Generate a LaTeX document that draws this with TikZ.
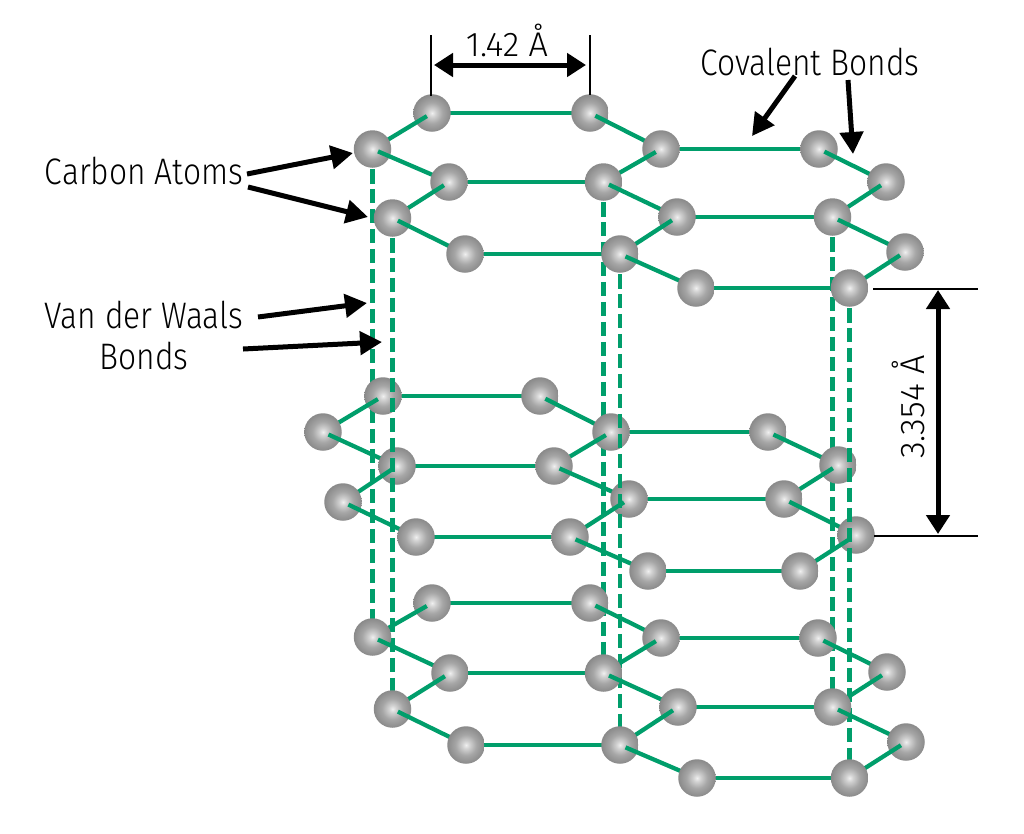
\documentclass[tikz,border=0pt]{standalone}
\usepackage{fontspec}
\setmainfont{Fira Sans}[UprightFont=* Light, FakeStretch=0.86]
\newfontfamily\numfont{Fira Sans Light}
\usetikzlibrary{arrows.meta}
\definecolor{bondgreen}{HTML}{009E6B}
\pgfdeclareradialshading{atomshade}{\pgfpoint{0bp}{0bp}}{%
	color(0bp)=(white!94!black);
	color(5bp)=(white!82!black);
	color(14bp)=(white!65!black);
	color(24bp)=(white!55!black);
	color(31bp)=(white!48!black);
	color(35bp)=(white!40!black);
	color(50bp)=(white!36!black)
}
\tikzset{%
	atom/.style={
		circle,
		inner sep=0pt,
		minimum size=0.75cm,
		shading=atomshade
	},
	bond/.style={
		draw=bondgreen,
		line width=0.085cm
	},
	vdw/.style={
		draw=bondgreen,
		line width=0.085cm,
		dash pattern=on 0.29cm off 0.11cm
	},
	pointer/.style={
		line width=0.1cm,
		-{Triangle[length=0.44cm,width=0.46cm]}
	},
	span/.style={
		line width=0.1cm,
		{Triangle[length=0.38cm,width=0.46cm]}-{Triangle[length=0.38cm,width=0.46cm]}
	},
	tick/.style={
		line width=0.04cm
	},
	label/.style={
		font=\fontsize{21}{25}\selectfont,
		inner sep=0pt,
		text=black
	},
	number/.style={
		font=\numfont\fontsize{19.5}{23}\selectfont,
		inner sep=0pt,
		text=black
	},
}
% one sheet: flat bonds first, then the zigzag bonds lying over one atom and under the next
\newcommand{\drawsheet}[1]{%
	\foreach \p/\q in {1/6,7/12,3/8,9/14,5/10,11/16}
		\draw[bond] (#1\p.center) -- (#1\q.center);
	\foreach \p in {1,6,12}
		\node[atom] (#1\p) at (#1\p) {};
	\foreach \p/\q in {1/2,2/3,3/4,4/5,6/7,7/8,8/9,9/10,10/11,12/13,13/14,14/15,15/16}{
		\draw[bond, shorten <=0.12cm] (#1\p.center) -- (#1\q.center);
		\node[atom] (#1\q) at (#1\q) {};
	}
}

\begin{document}
\begin{tikzpicture}[x=0.02cm, y=-0.02cm]
			
			\useasboundingbox (0,0) rectangle (1024,833);
			
			% Atom positions, top sheet
			\foreach \n/\x/\y in {1/432/113,2/372.5/149,3/449/182,4/392.5/218,5/465/254,6/590/113,7/661/149,8/603.5/182,9/677/217,10/620/254,11/696/288,12/819/149,13/886/182,14/832.5/217,15/905/252,16/849.5/288}
				\coordinate (t\n) at (\x,\y);
			% Middle sheet
			\foreach \n/\x/\y in {1/383/396,2/323/432,3/397/466,4/343/502,5/416/537,6/540/396,7/611/432,8/554/466,9/629/499,10/570/537,11/648/571,12/768/432,13/838/465,14/784/499,15/856/535,16/800/571}
				\coordinate (m\n) at (\x,\y);
			% Bottom sheet
			\foreach \n/\x/\y in {1/432/603,2/372.5/637,3/450/673,4/392.5/709,5/466/745,6/590/603,7/661/638,8/603.5/673,9/678/707,10/620/745,11/697/778,12/818/638,13/887/672,14/832.5/707,15/906/742,16/849.5/778}
				\coordinate (b\n) at (\x,\y);
			
			% Van der Waals bonds behind the middle sheet
			\foreach \n in {2,8,14}
				\draw[vdw] (t\n.center) -- (b\n.center);
			\drawsheet{m}
			% These run in front of it
			\foreach \n in {4,10,16}
				\draw[vdw] (t\n.center) -- (b\n.center);
			\drawsheet{t}
			\drawsheet{b}
			
			% Carbon atom labels
			\node[label] (carbon) at (144,171) {Carbon Atoms};
			\coordinate (ca1) at (247,174);
			\coordinate (ca2) at (353,153);
			\coordinate (ca3) at (248,187);
			\coordinate (ca4) at (368,217);
			\draw[pointer] (ca1) -- (ca2);
			\draw[pointer] (ca3) -- (ca4);
			
			% Van der Waals labels
			\node[label] (waals) at (144,315) {Van der Waals};
			\node[label] (waals2) at (144,356) {Bonds};
			\coordinate (vw1) at (258,317);
			\coordinate (vw2) at (367,303);
			\coordinate (vw3) at (243,349);
			\coordinate (vw4) at (382,342);
			\draw[pointer] (vw1) -- (vw2);
			\draw[pointer] (vw3) -- (vw4);
			
			% Covalent bond labels
			\node[label] (covalent) at (810,62) {Covalent Bonds};
			\coordinate (co1) at (795,76);
			\coordinate (co2) at (752,136);
			\coordinate (co3) at (848,80);
			\coordinate (co4) at (853,154);
			\draw[pointer] (co1) -- (co2);
			\draw[pointer] (co3) -- (co4);
			
			% Bond length
			\node[number] (length) at (507,40) {1.42 Å};
			\coordinate (le1) at (431,35);
			\coordinate (le2) at (431,96);
			\coordinate (le3) at (590,35);
			\coordinate (le4) at (590,95);
			\coordinate (le5) at (434,65);
			\coordinate (le6) at (586,65);
			\draw[tick] (le1) -- (le2);
			\draw[tick] (le3) -- (le4);
			\draw[span] (le5) -- (le6);
			
			% Sheet spacing
			\node[number, rotate=90] (spacing) at (908,407) {3.354 Å};
			\coordinate (sp1) at (873,289);
			\coordinate (sp2) at (978,289);
			\coordinate (sp3) at (874,536);
			\coordinate (sp4) at (978,536);
			\coordinate (sp5) at (938,290);
			\coordinate (sp6) at (938,534);
			\draw[tick] (sp1) -- (sp2);
			\draw[tick] (sp3) -- (sp4);
			\draw[span] (sp5) -- (sp6);
			
		\end{tikzpicture}
\end{document}
